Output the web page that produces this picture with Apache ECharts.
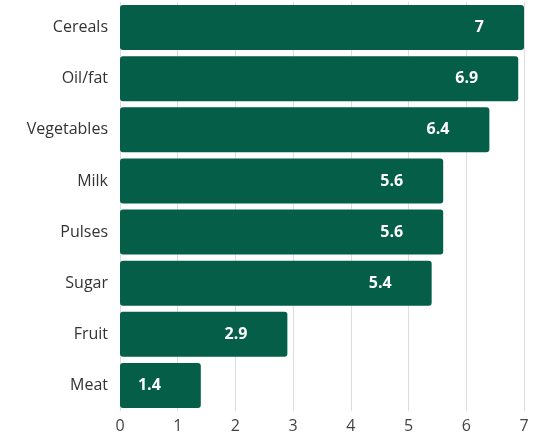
<!DOCTYPE html>
<html><head><meta charset="utf-8">
<script src="https://cdn.jsdelivr.net/npm/echarts@6/dist/echarts.min.js"></script>
<style>html,body{margin:0;padding:0;background:#fff}#c{width:538px;height:434px}</style>
</head><body><div id="c"></div>
<script>
const categories = ["Cereals","Oil/fat","Vegetables","Milk","Pulses","Sugar","Fruit","Meat"];
const values = [7, 6.9, 6.4, 5.6, 5.6, 5.4, 2.9, 1.4];
const xTicks = [0,1,2,3,4,5,6,7];

const chart = echarts.init(document.getElementById('c'));
chart.setOption({
  animation: false,
  textStyle: {fontFamily: 'Open Sans'},
  grid: {left: 120, right: 14, top: 2, bottom: 23, containLabel: false},
  xAxis: {
    type: 'value', min: 0, max: 7, interval: 1,
    axisLine: {show: false}, axisTick: {show: false},
    splitLine: {lineStyle: {color: '#dddddd'}},
    axisLabel: {color: '#444', fontSize: 16, margin: 7,
      formatter: v => xTicks.includes(v) ? String(v) : ''}
  },
  yAxis: {
    type: 'category', data: categories, inverse: true,
    axisLine: {show: false}, axisTick: {show: false},
    axisLabel: {color: '#333', fontSize: 16, margin: 12}
  },
  series: [{
    type: 'bar', data: values, barCategoryGap: '12%',
    itemStyle: {color: '#045e48', borderRadius: 3},
    label: {show: true, position: 'insideRight', distance: 40,
      color: '#fff', fontWeight: 'bold', fontSize: 16, fontFamily: 'Open Sans'}
  }]
});
</script></body></html>
